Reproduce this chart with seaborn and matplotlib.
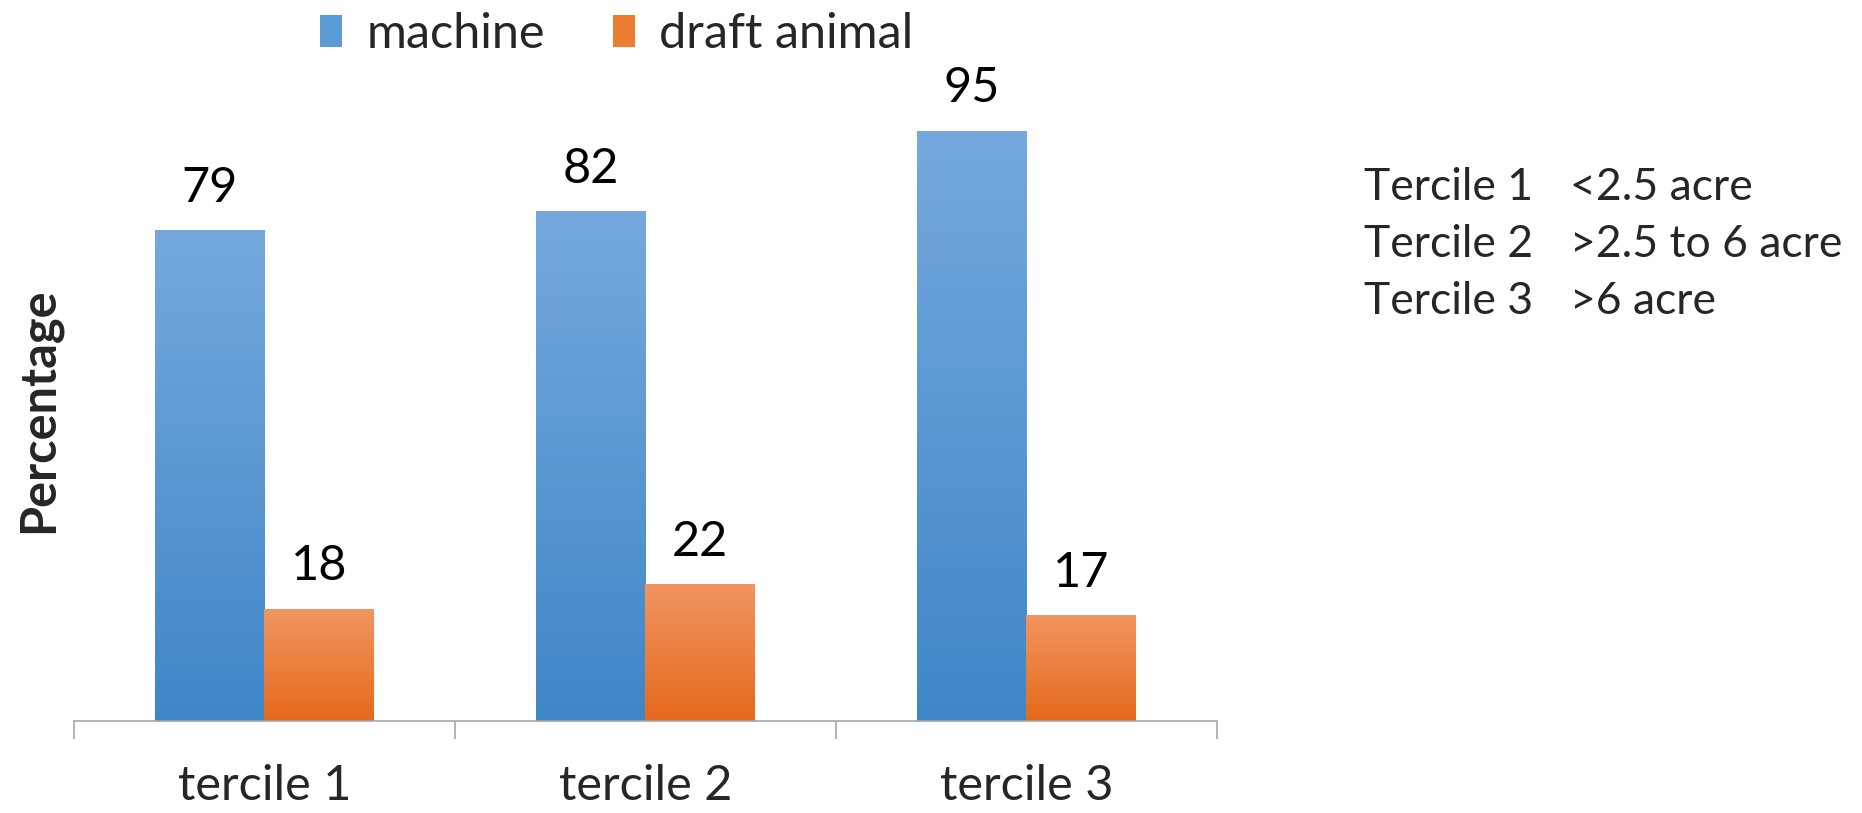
import numpy as np
import pandas as pd
import matplotlib
matplotlib.use("Agg")
import matplotlib.pyplot as plt
import seaborn as sns
from matplotlib.colors import LinearSegmentedColormap
from matplotlib.patches import Patch

categories = ["tercile 1", "tercile 2", "tercile 3"]
series = ["machine", "draft animal"]
machine = [79, 82, 95]
draft_animal = [18, 22, 17]
notes_left = ["Tercile 1", "Tercile 2", "Tercile 3"]
notes_right = ["<2.5 acre", ">2.5 to 6 acre", ">6 acre"]

grad = {
    "machine": ("#75a9dd", "#3f86c7"),
    "draft animal": ("#f19561", "#e5691c"),
}
mid = {"machine": "#5b9bd5", "draft animal": "#ed7d31"}

df = pd.DataFrame({
    "cat": categories * 2,
    "series": [series[0]] * 3 + [series[1]] * 3,
    "val": machine + draft_animal,
})

sns.set_theme(style="white")
plt.rcParams["font.family"] = ["Lato", "DejaVu Sans"]

FS = 35

fig = plt.figure(figsize=(18.62, 8.13), dpi=100)
ax = fig.add_axes([0.0397, 0.1132, 0.6139, 0.7638])

sns.barplot(data=df, x="cat", y="val", hue="series", order=categories,
            hue_order=series, palette=mid, width=0.575, ax=ax, legend=False,
            errorbar=None, saturation=1)

# gradient fills
for cont, s in zip(ax.containers, series):
    cmap = LinearSegmentedColormap.from_list(s, [grad[s][1], grad[s][0]])
    g = np.linspace(0, 1, 256).reshape(-1, 1)
    for p in cont.patches:
        x0, y0 = p.get_x(), p.get_y()
        w, h = p.get_width(), p.get_height()
        ax.imshow(g, cmap=cmap, origin="lower", aspect="auto",
                  extent=[x0, x0 + w, y0, y0 + h], zorder=2)
        p.set_alpha(0)
    for p in cont.patches:
        ax.text(p.get_x() + p.get_width() / 2, p.get_height() + 6.9,
                f"{p.get_height():.0f}", ha="center", va="center",
                fontsize=FS, color="black")

ax.set_xlim(-0.5, 2.5)
ax.set_ylim(0, 100)
ax.set_yticks([])
ax.set_xlabel("")
ax.set_ylabel("Percentage", fontsize=FS, fontweight="bold", labelpad=9)
for sp in ["top", "right", "left"]:
    ax.spines[sp].set_visible(False)
ax.spines["bottom"].set_color("#a6a6a6")
ax.spines["bottom"].set_linewidth(1.2)
ax.set_xticks([0, 1, 2])
ax.set_xticklabels(categories, fontsize=FS)
ax.set_xticks([-0.5, 0.5, 1.5, 2.5], minor=True)
ax.tick_params(axis="x", which="major", length=0, pad=31)
ax.tick_params(axis="x", which="minor", length=13, width=1.2,
               color="#a6a6a6", bottom=True)

handles = [Patch(facecolor=mid[s], edgecolor="none") for s in series]
fig.legend(handles, series, loc="center", bbox_to_anchor=(617 / 1862, 1 - 34 / 813),
           ncol=2, frameon=False, fontsize=FS, handlelength=0.45,
           handleheight=0.65, handletextpad=0.5, columnspacing=1.4)

for i, (a, b) in enumerate(zip(notes_left, notes_right)):
    y = 1 - (188 + 56.5 * i) / 813
    fig.text(1364 / 1862, y, a, fontsize=32, va="center", ha="left")
    fig.text(1570 / 1862, y, b, fontsize=32, va="center", ha="left")

fig.savefig("out.png", dpi=100)
